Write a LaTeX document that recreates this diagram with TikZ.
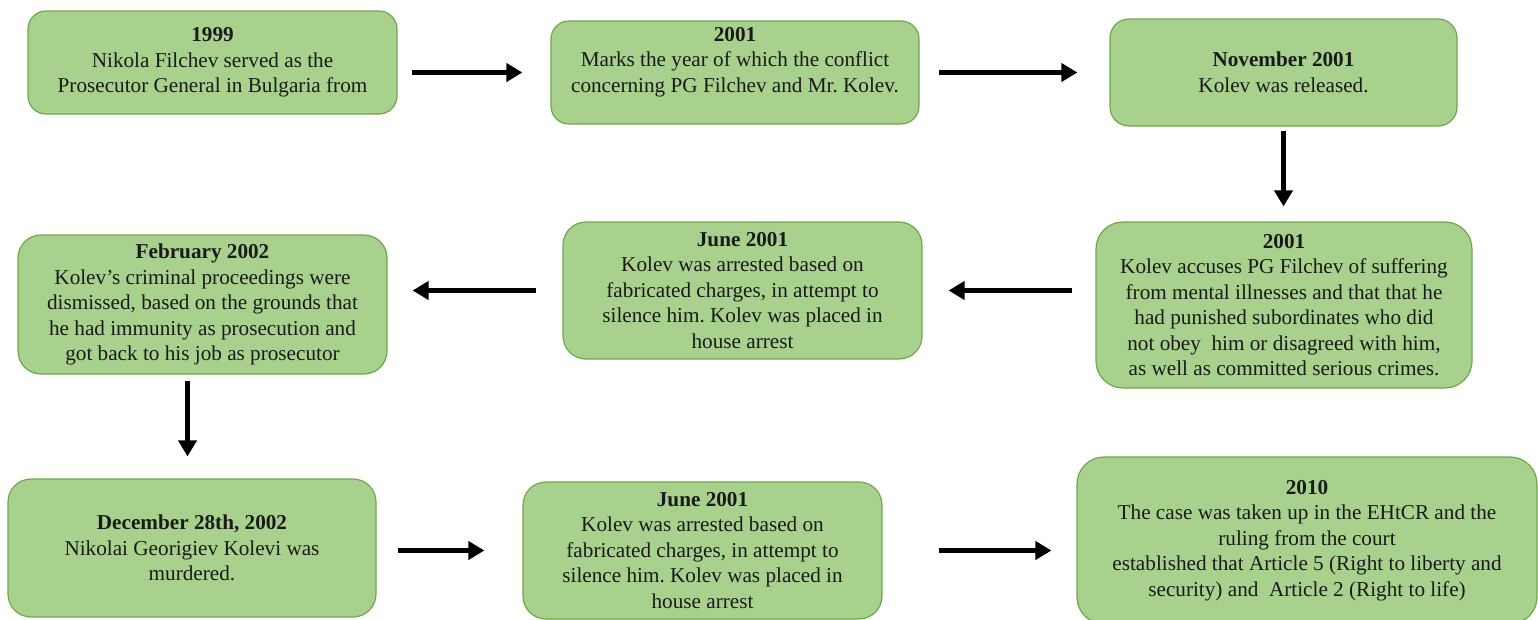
\documentclass[tikz,border=0pt]{standalone}
\usepackage{fontspec}
\setmainfont{Liberation Serif}
\usetikzlibrary{arrows.meta}
\definecolor{boxfill}{HTML}{A9D18E}
\definecolor{boxline}{HTML}{6FA64B}
\definecolor{txt}{HTML}{1A1A1A}
\frenchspacing
\tikzset{
  evt/.style={draw=boxline, fill=boxfill, line width=1.2pt, align=center, inner sep=0pt,
    text=txt, font=\fontsize{21.2}{25.5}\selectfont},
  arr/.style={line width=5pt, -{Triangle[length=16pt,width=18pt]}, black}
}
\begin{document}
\begin{tikzpicture}[x=1pt,y=-1pt]
\useasboundingbox (0,0) rectangle (1538,619);
\clip (0,0) rectangle (1538,619);
\node[evt, rounded corners=18pt, minimum width=369pt, minimum height=103pt] (b1) at (212.5,62.5)
  {\textbf{1999}\\Nikola Filchev served as the\\Prosecutor General in Bulgaria from};
\node[evt, rounded corners=18pt, minimum width=368pt, minimum height=103pt] (b2) at (735,72.5)
  {\textbf{2001}\\Marks the year of which the conflict\\concerning PG Filchev and Mr. Kolev.\\\mbox{}};
\node[evt, rounded corners=19pt, minimum width=347pt, minimum height=107pt] (b3) at (1283.5,72.5)
  {\textbf{November 2001}\\Kolev was released.};
\node[evt, rounded corners=27pt, minimum width=376pt, minimum height=166pt] (b4) at (1284,305)
  {\textbf{2001}\\Kolev accuses PG Filchev of suffering\\from mental illnesses and that that he\\had punished subordinates who did\\not obey\ \ him or disagreed with him,\\as well as committed serious crimes.};
\node[evt, rounded corners=23pt, minimum width=359pt, minimum height=137pt] (b5) at (742.5,290.5)
  {\textbf{June 2001}\\Kolev was arrested based on\\fabricated charges, in attempt to\\silence him. Kolev was placed in\\house arrest};
\node[evt, rounded corners=23pt, minimum width=369pt, minimum height=139pt] (b6) at (202.5,304.5)
  {\textbf{February 2002}\\Kolev's criminal proceedings were\\dismissed, based on the grounds that\\he had immunity as prosecution and\\got back to his job as prosecutor};
\node[evt, rounded corners=23pt, minimum width=368pt, minimum height=138pt] (b7) at (192,548)
  {\textbf{December 28th, 2002}\\Nikolai Georigiev Kolevi was\\murdered.};
\node[evt, rounded corners=23pt, minimum width=359pt, minimum height=137pt] (b8) at (702.5,550.5)
  {\textbf{June 2001}\\Kolev was arrested based on\\fabricated charges, in attempt to\\silence him. Kolev was placed in\\house arrest};
\node[evt, rounded corners=27pt, minimum width=460pt, minimum height=167pt] (b9) at (1307,540.5)
  {\textbf{2010}\\The case was taken up in the EHtCR and the\\ruling from the court\\established that Article 5 (Right to liberty and\\security) and\ \ Article 2 (Right to life)};
% connectors
\draw[arr, shorten <=14pt, shorten >=28pt] (b1.east |- b2.west) -- (b2.west);
\draw[arr, shorten <=19pt, shorten >=32pt] (b2.east) -- (b3.west);
\draw[arr, shorten <=4pt, shorten >=15pt] (b3.south) -- (b3.south |- b4.north);
\draw[arr, shorten <=23pt, shorten >=26pt] (b4.west |- b5.east) -- (b5.east);
\draw[arr, shorten <=26pt, shorten >=25pt] (b5.west) -- (b6.east |- b5.west);
\coordinate (a6s) at ([xshift=-15pt]b6.south);
\draw[arr, shorten <=6pt, shorten >=22pt] (a6s) -- (a6s |- b7.north);
\draw[arr, shorten <=21pt, shorten >=38pt] (b7.east |- b8.west) -- (b8.west);
\draw[arr, shorten <=56pt, shorten >=25pt] (b8.east) -- (b8.east -| b9.west);
\end{tikzpicture}
\end{document}
